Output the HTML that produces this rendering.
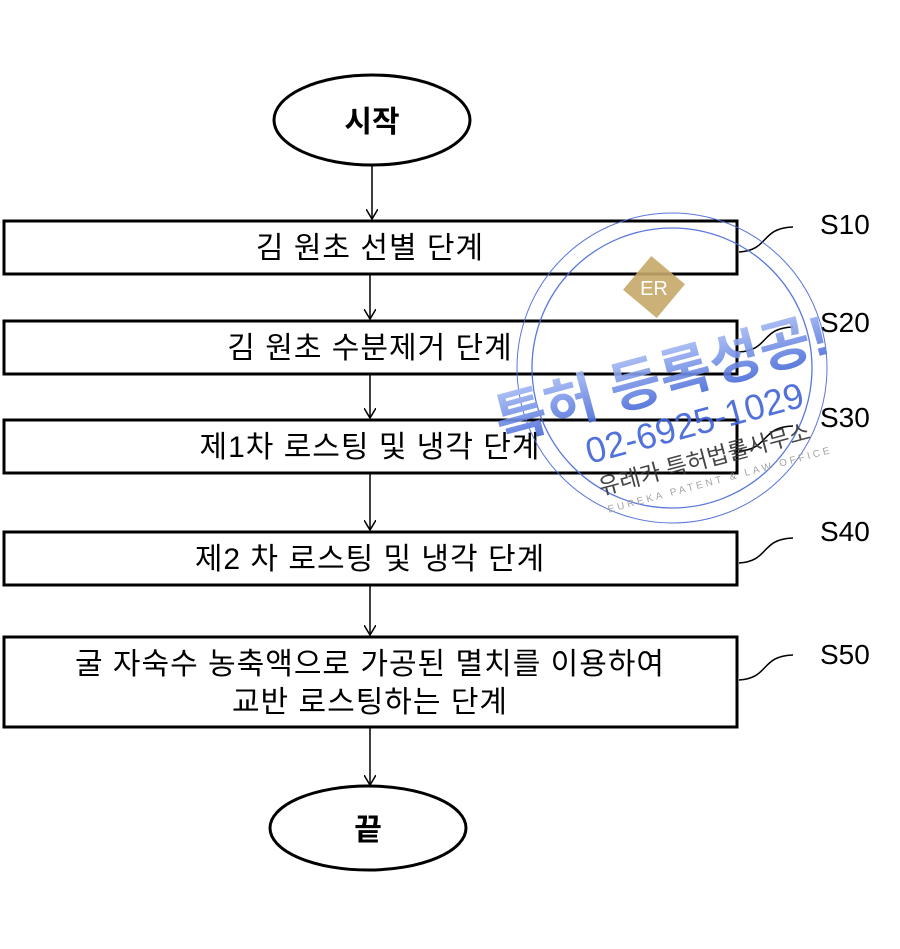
<!DOCTYPE html>
<html><head><meta charset="utf-8"><style>
body{margin:0;background:#fff}
svg{display:block}
text{font-family:"Liberation Sans","Noto Sans CJK KR",sans-serif}
</style></head><body>
<svg width="900" height="949" viewBox="0 0 900 949" xmlns="http://www.w3.org/2000/svg">
<defs><marker id="a" markerWidth="12" markerHeight="12" refX="10" refY="6" orient="auto" markerUnits="userSpaceOnUse"><path d="M0,0 L10,6 L0,12" fill="none" stroke="#000" stroke-width="1.5"/></marker>
<linearGradient id="g" x1="0" y1="0" x2="0" y2="1"><stop offset="0" stop-color="#a9bdf5"/><stop offset="1" stop-color="#3f63d6"/></linearGradient></defs>
<g fill="none" stroke="#000" stroke-width="3">
<ellipse cx="372" cy="120" rx="98" ry="45"/>
<ellipse cx="368" cy="828" rx="98" ry="42"/>
<rect x="4" y="221" width="733" height="53"/>
<rect x="4" y="321" width="733" height="53"/>
<rect x="4" y="420" width="733" height="53"/>
<rect x="4" y="532" width="733" height="53"/>
<rect x="4" y="637" width="733" height="90"/>
</g>
<g stroke="#000" stroke-width="1.5" fill="none" marker-end="url(#a)">
<line x1="372" y1="165" x2="372" y2="219"/>
<line x1="370" y1="275" x2="370" y2="319"/>
<line x1="370" y1="375" x2="370" y2="418"/>
<line x1="370" y1="474" x2="370" y2="530"/>
<line x1="370" y1="586" x2="370" y2="635"/>
<line x1="370" y1="728" x2="370" y2="785"/>
</g>
<g stroke="#000" stroke-width="1.5" fill="none">
<path d="M739,252 C770,250 760,228 793,227"/>
<path d="M739,352 C770,350 760,328 793,327"/>
<path d="M739,451 C770,449 760,427 793,426"/>
<path d="M739,563 C770,561 760,539 793,538"/>
<path d="M739,680 C770,678 760,656 793,655"/>
</g>
<g font-size="28" fill="#000">
<text x="820" y="234">S10</text>
<text x="820" y="332">S20</text>
<text x="820" y="427">S30</text>
<text x="820" y="541">S40</text>
<text x="820" y="664">S50</text>
</g>
<g font-size="30" fill="#000" text-anchor="middle">
<text x="372" y="132" font-weight="bold">시작</text>
<text x="368" y="840" font-weight="bold">끝</text>
<text x="370" y="258" letter-spacing="1">김 원초 선별 단계</text>
<text x="370" y="358" letter-spacing="1">김 원초 수분제거 단계</text>
<text x="370" y="457" letter-spacing="1">제1차 로스팅 및 냉각 단계</text>
<text x="370" y="569" letter-spacing="1">제2 차 로스팅 및 냉각 단계</text>
<text x="370" y="674" letter-spacing="1">굴 자숙수 농축액으로 가공된 멸치를 이용하여</text>
<text x="370" y="712" letter-spacing="1">교반 로스팅하는 단계</text>
</g>
<g opacity="0.9">
<circle cx="672" cy="368" r="155" fill="none" stroke="#4a6ad8" stroke-width="1"/>
<circle cx="672" cy="368" r="140" fill="none" stroke="#4a6ad8" stroke-width="1.3"/>
<rect x="632" y="265" width="44" height="44" fill="#c6a96a" transform="rotate(40 654 287)"/>
<text x="654" y="295" font-size="20" fill="#fff" text-anchor="middle" font-family="Liberation Serif">ER</text>
<g transform="rotate(-15 670 370)">
<text x="660" y="395" font-size="56" font-weight="bold" fill="url(#g)" text-anchor="middle">특허 등록성공!</text>
<text x="680" y="440" font-size="36" fill="#3f63d6" text-anchor="middle">02-6925-1029</text>
<text x="680" y="473" font-size="23" fill="#333" text-anchor="middle">유레카 특허법률사무소</text>
<text x="690" y="492" font-size="10" fill="#999" text-anchor="middle" letter-spacing="3">EUREKA PATENT &amp; LAW OFFICE</text>
</g>
</g>
</svg>
</body></html>
